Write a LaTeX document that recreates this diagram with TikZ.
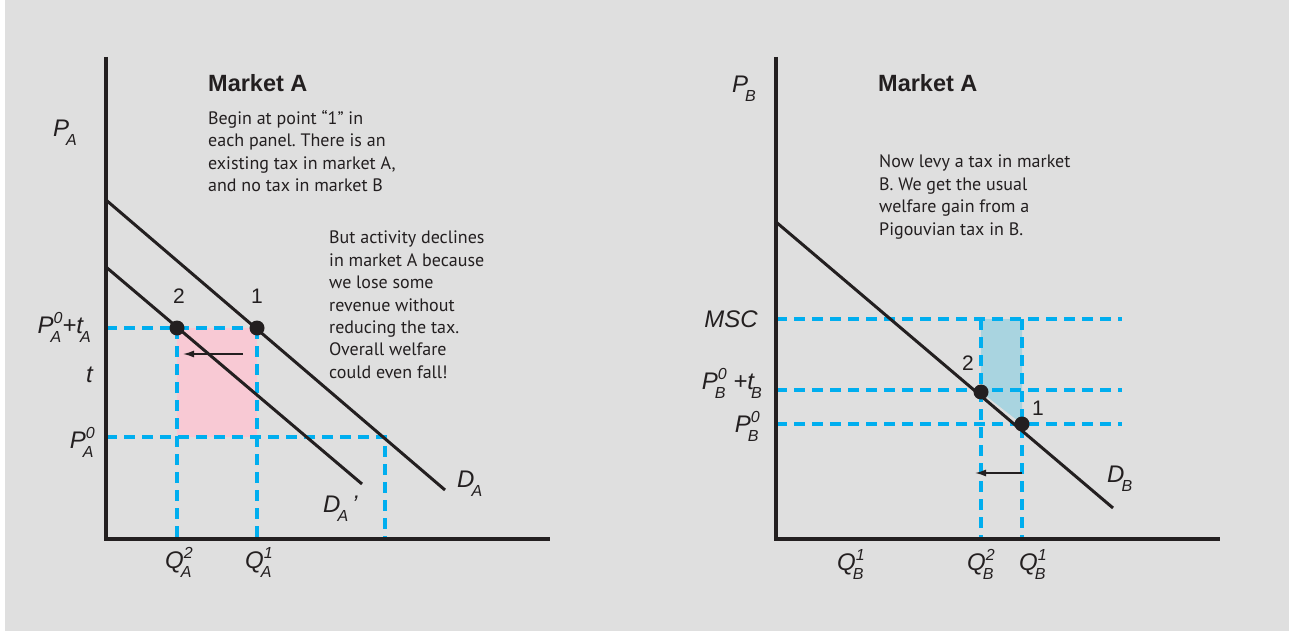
\documentclass[tikz,border=0pt]{standalone}
\usepackage{fontspec}
\setmainfont{PT Sans}
\newfontfamily\labfont{Liberation Sans}
\usetikzlibrary{arrows.meta}
\definecolor{panel}{HTML}{DFDFDF}
\definecolor{ink}{HTML}{231F20}
\definecolor{dashblue}{HTML}{00AEEF}
\definecolor{lossred}{HTML}{F8C9D4}
\definecolor{gainblue}{HTML}{A9D4E0}
\frenchspacing
% letter with stacked super- and subscript
\newcommand{\sv}[3]{#1\kern-3pt\raisebox{-9pt}{\fontsize{16}{19}\selectfont
  \begin{tabular}[b]{@{}l@{}}\kern3pt#2\\#3\end{tabular}}}

\begin{document}
\begin{tikzpicture}[x=1pt,y=-1pt,
  axis/.style={ink,line width=3.5pt},
  demand/.style={ink,line width=3pt},
  guide/.style={dashblue,line width=3.2pt,dash pattern=on 11pt off 7pt},
  lab/.style={ink,inner sep=0pt,font=\labfont\fontsize{24}{27}\selectfont\itshape},
  num/.style={ink,inner sep=0pt,font=\labfont\fontsize{21}{24}\selectfont},
  title/.style={ink,inner sep=0pt,font=\labfont\fontsize{23.5}{26}\selectfont\bfseries},
  note/.style={ink,inner sep=0pt,align=left,font=\fontsize{18}{22.4}\selectfont}]
\fill[white] (0,0) rectangle (1289,631);
\fill[panel] (5,0) rectangle (1289,631);

% market A
\coordinate (oA) at (106,539);
\coordinate (yA) at (106,57);
\coordinate (xA) at (550,539);
\coordinate (a2) at (177,328);
\coordinate (a1) at (257,328);
\fill[lossred] (a2) rectangle (257,437);
\draw[guide] (106,328) -- (a1);
\draw[guide] (106,437) -- (385,437) -- (385,539);
\draw[guide] (a2) -- (177,539);
\draw[guide] (a1) -- (257,539);
\draw[demand] (106,200) -- (445,490);
\draw[demand] (106,267) -- (362,484);
\draw[axis] (yA) -- (oA) -- (xA);
\fill[ink] (a2) circle (7.5);
\fill[ink] (a1) circle (7.5);
\draw[-{Latex[length=11pt,width=7pt]},ink,line width=1.5pt] (243,354) -- (183,354);
\node[num,anchor=base] at (179,303) {2};
\node[num,anchor=base] at (257,303) {1};
\node[lab,anchor=base west] at (53,137) {\sv{P}{}{A}};
\node[lab,anchor=base east] at (91,333) {\sv{P}{0}{A}+\sv{t}{}{A}};
\node[lab,anchor=base east] at (93,382) {t};
\node[lab,anchor=base east] at (95,448) {\sv{P}{0}{A}};
\node[lab,anchor=base west] at (457,487) {\sv{D}{}{A}};
\node[lab,anchor=base west] at (323,512) {\sv{D}{}{A}\,’};
\node[lab,anchor=base west] at (165,568) {\sv{Q}{2}{A}};
\node[lab,anchor=base west] at (245,568) {\sv{Q}{1}{A}};
\node[title,anchor=base west] at (208,92) {Market A};
\node[note,anchor=north west] (noteA) at (208,110) {Begin at point “1” in\\each panel. There is an\\existing tax in market A,\\and no tax in market B};
\node[note,anchor=north west] (noteD) at (329,231) {But activity declines\\in market A because\\we lose some\\revenue without\\reducing the tax.\\Overall welfare\\could even fall!};

% market B
\coordinate (oB) at (776,539);
\coordinate (yB) at (776,57);
\coordinate (xB) at (1220,539);
\coordinate (b2) at (981,392);
\coordinate (b1) at (1022,424);
\fill[gainblue] (981,319) -- (1022,319) -- (b1) -- (b2) -- cycle;
\draw[guide] (776,319) -- (1122,319);
\draw[guide] (776,390) -- (1122,390);
\draw[guide] (776,424) -- (1122,424);
\draw[guide] (981,319) -- (981,539);
\draw[guide] (1022,319) -- (1022,539);
\draw[demand] (776,222) -- (1113,508);
\draw[axis] (yB) -- (oB) -- (xB);
\fill[ink] (b2) circle (7.5);
\fill[ink] (b1) circle (7.5);
\draw[-{Latex[length=11pt,width=7pt]},ink,line width=1.5pt] (1022,473) -- (975,473);
\node[num,anchor=base] at (968,370) {2};
\node[num,anchor=base] at (1038,415) {1};
\node[lab,anchor=base west] at (732,93) {\sv{P}{}{B}};
\node[lab,anchor=base east] at (758,327) {MSC};
\node[lab,anchor=base east] at (762,389) {\sv{P}{0}{B} +\sv{t}{}{B}};
\node[lab,anchor=base east] at (760,432) {\sv{P}{0}{B}};
\node[lab,anchor=base west] at (1107,482) {\sv{D}{}{B}};
\node[lab,anchor=base west] at (837,570) {\sv{Q}{1}{B}};
\node[lab,anchor=base west] at (967,570) {\sv{Q}{2}{B}};
\node[lab,anchor=base west] at (1019,570) {\sv{Q}{1}{B}};
\node[title,anchor=base west] at (878,92) {Market A};
\node[note,anchor=north west] (noteB) at (879,155) {Now levy a tax in market\\B. We get the usual\\welfare gain from a\\Pigouvian tax in B.};
\end{tikzpicture}
\end{document}
